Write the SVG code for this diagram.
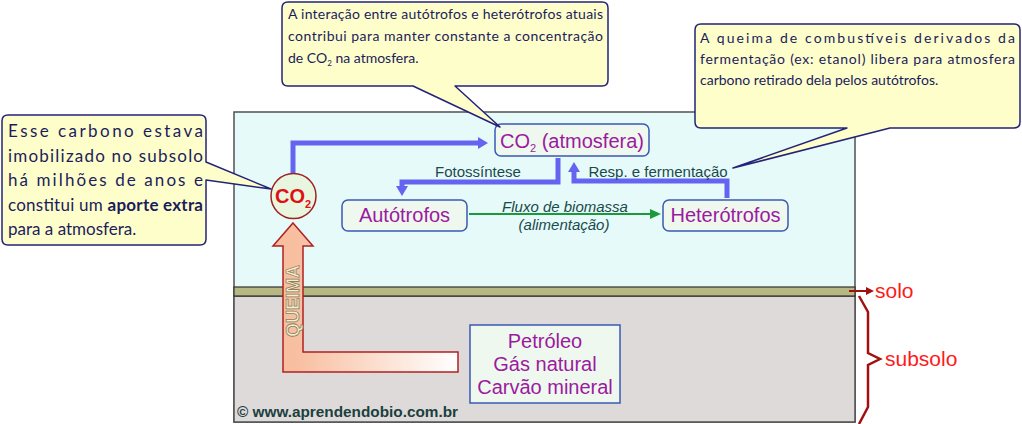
<svg xmlns="http://www.w3.org/2000/svg" width="1022" height="424" viewBox="0 0 1022 424">
<style>
.callout{fill:#fefecb;stroke:#23237a;stroke-width:1.5;stroke-linejoin:round}
.ctext{font-family:Lato,"Open Sans",sans-serif;fill:#1c1c5c}
.node{fill:#eef8ee;stroke:#3a5ab4;stroke-width:1.5}
.ntext{font-family:"Liberation Sans",Arial,sans-serif;font-size:20px;fill:#9c1aa0;text-anchor:middle}
.lbl{font-family:"Liberation Sans",Arial,sans-serif;font-size:15px;fill:#1a4a4a}
.blue{fill:none;stroke:#6464f0;stroke-width:5}
.red{font-family:"Liberation Sans",Arial,sans-serif;font-size:21px;fill:#ff1a1a}
</style>
<defs>
<marker id="bh" viewBox="0 0 10 12" refX="0" refY="6" markerWidth="10" markerHeight="12" markerUnits="userSpaceOnUse" orient="auto"><path d="M0,0 L10,6 L0,12 z" fill="#6464f0"/></marker>
<marker id="gh" viewBox="0 0 11 10" refX="0" refY="5" markerWidth="11" markerHeight="10" markerUnits="userSpaceOnUse" orient="auto"><path d="M0,0 L11,5 L0,10 z" fill="#1a9a3a"/></marker>
<marker id="rh" viewBox="0 0 8 8" refX="0" refY="4" markerWidth="8" markerHeight="8" markerUnits="userSpaceOnUse" orient="auto"><path d="M0,0 L8,4 L0,8 z" fill="#a01010"/></marker>
<linearGradient id="qg" gradientUnits="userSpaceOnUse" x1="295" y1="0" x2="458" y2="0"><stop offset="0" stop-color="#f8bea0"/><stop offset="1" stop-color="#ffffff"/></linearGradient>
</defs>

<g id="ground">
<rect x="234" y="112" width="621" height="310" fill="#e6fafa" stroke="#505050" stroke-width="1.5"/>
<rect x="234" y="296" width="621" height="126" fill="#dedad9" stroke="#505050" stroke-width="1.5"/>
<rect x="234" y="287" width="621" height="9" fill="#b8b884" stroke="#303030" stroke-width="1.2"/>
</g>

<g id="queima">
<path d="M293,223 L313,246 L303,246 L303,352 L458,352 L458,372 L283,372 L283,246 L273,246 Z" fill="url(#qg)" stroke="#b02020" stroke-width="1.5"/>
<text transform="translate(299,301) rotate(-90)" text-anchor="middle" font-family="Liberation Sans,Arial,sans-serif" font-weight="bold" font-size="18" fill="#f5eecc" stroke="#8a8060" stroke-width="0.8">QUEIMA</text>
</g>

<g id="connectors">
<path class="blue" d="M293,174 V143 H478" marker-end="url(#bh)"/>
<path class="blue" d="M558,158 V182 H402 V186" marker-end="url(#bh)"/>
<path class="blue" d="M727,198 V181 H574 V172" marker-end="url(#bh)"/>
<path d="M469,214 H650" stroke="#1a9a3a" stroke-width="2" fill="none" marker-end="url(#gh)"/>
<path d="M849,291 H866" stroke="#a01010" stroke-width="2" fill="none" marker-end="url(#rh)"/>
<path d="M859,296 L868,312 V353 L880,359 L868,365 V407 L859,424" fill="none" stroke="#a01010" stroke-width="2.5"/>
</g>

<g id="labels">
<text class="lbl" x="478" y="177" text-anchor="middle">Fotossíntese</text>
<text class="lbl" x="658" y="177" text-anchor="middle">Resp. e fermentação</text>
<text class="lbl" x="565" y="212" text-anchor="middle" font-style="italic">Fluxo de biomassa</text>
<text class="lbl" x="564" y="230" text-anchor="middle" font-style="italic">(alimentação)</text>
<text class="red" x="875" y="298">solo</text>
<text class="red" x="885" y="366">subsolo</text>
<text x="237" y="417" font-family="Liberation Sans,Arial,sans-serif" font-weight="bold" font-size="15" fill="#1a4040" textLength="221" lengthAdjust="spacingAndGlyphs">© www.aprendendobio.com.br</text>
</g>

<g id="co2-circle">
<circle cx="293.5" cy="196" r="22.5" fill="#e8f6e0" stroke="#a02020" stroke-width="1.5"/>
<text x="275" y="203" font-family="Liberation Sans,Arial,sans-serif" font-weight="bold" font-size="20" fill="#e01010">CO<tspan font-size="11" dy="5">2</tspan></text>
</g>

<g id="co2-atm">
<rect class="node" x="495" y="124" width="154" height="32" rx="6"/>
<text class="ntext" x="572" y="148">CO<tspan font-size="11" dy="4">2</tspan><tspan dy="-4"> (atmosfera)</tspan></text>
</g>

<g id="autotrofos">
<rect class="node" x="342" y="200" width="125" height="31" rx="6"/>
<text class="ntext" x="404.5" y="222">Autótrofos</text>
</g>

<g id="heterotrofos">
<rect class="node" x="663" y="200" width="125" height="31" rx="6"/>
<text class="ntext" x="725.5" y="222">Heterótrofos</text>
</g>

<g id="fosseis">
<rect x="470" y="325" width="150" height="78" fill="#eef8ee" stroke="#3a5ab4" stroke-width="1.5"/>
<text class="ntext" x="545" y="348">Petróleo</text>
<text class="ntext" x="545" y="371">Gás natural</text>
<text class="ntext" x="545" y="394">Carvão mineral</text>
</g>

<g id="callout-left">
<path class="callout" d="M8,115 H200 Q206,115 206,121 V162 L271,189 L206,180 V239 Q206,245 200,245 H8 Q2,245 2,239 V121 Q2,115 8,115 Z"/>
<text class="ctext" x="8" y="137" font-size="17" textLength="195" lengthAdjust="spacing">Esse carbono estava</text>
<text class="ctext" x="8" y="162" font-size="17" textLength="195" lengthAdjust="spacing">imobilizado no subsolo</text>
<text class="ctext" x="8" y="186" font-size="17" textLength="195" lengthAdjust="spacing">há milhões de anos e</text>
<text class="ctext" x="8" y="211" font-size="17" textLength="195" lengthAdjust="spacing">constitui um <tspan font-weight="bold">aporte extra</tspan></text>
<text class="ctext" x="8" y="235" font-size="17">para a atmosfera.</text>
</g>

<g id="callout-top">
<path class="callout" d="M288,2 H602 Q608,2 608,8 V80 Q608,86 602,86 H455 L500,127 L413,86 H288 Q282,86 282,80 V8 Q282,2 288,2 Z"/>
<text class="ctext" x="288" y="19" font-size="14" textLength="315" lengthAdjust="spacing">A interação entre autótrofos e heterótrofos atuais</text>
<text class="ctext" x="288" y="41" font-size="14" textLength="315" lengthAdjust="spacing">contribui para manter constante a concentração</text>
<text class="ctext" x="288" y="63" font-size="14">de CO<tspan font-size="8" dy="3">2</tspan><tspan dy="-3"> na atmosfera.</tspan></text>
</g>

<g id="callout-right">
<path class="callout" d="M701,24 H1014 Q1020,24 1020,30 V122 Q1020,128 1014,128 H890 L733,168 L847,128 H701 Q695,128 695,122 V30 Q695,24 701,24 Z"/>
<text class="ctext" x="700" y="43" font-size="14" textLength="315" lengthAdjust="spacing">A queima de combustíveis derivados da</text>
<text class="ctext" x="700" y="64" font-size="14" textLength="315" lengthAdjust="spacing">fermentação (ex: etanol) libera para atmosfera</text>
<text class="ctext" x="700" y="85" font-size="14">carbono retirado dela pelos autótrofos.</text>
</g>
</svg>
